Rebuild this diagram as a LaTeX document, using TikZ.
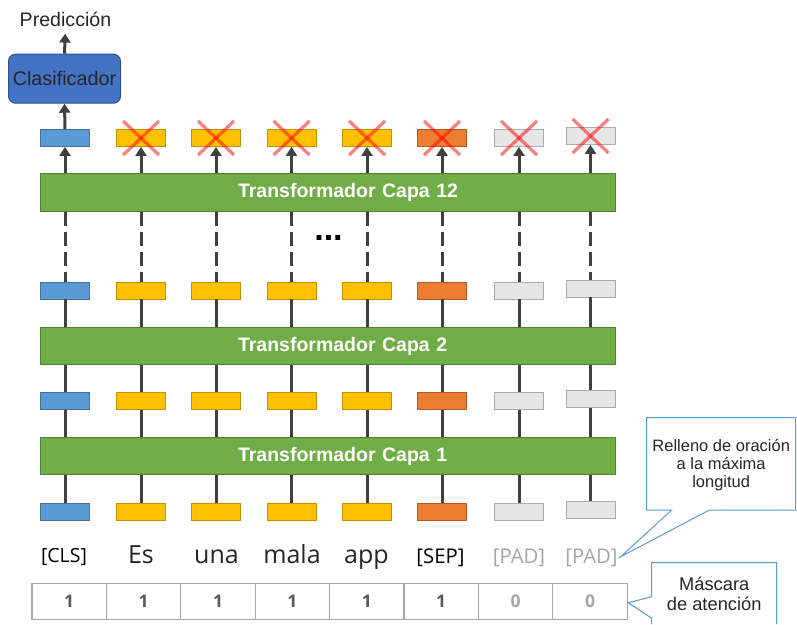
\documentclass[tikz,border=0pt]{standalone}
\usepackage{fontspec}
\setmainfont{Liberation Sans}
\newfontfamily\tokfont{Open Sans}
\usetikzlibrary{arrows.meta,calc}
\definecolor{cblue}{HTML}{5B9BD5}
\definecolor{cblueD}{HTML}{41719C}
\definecolor{cyel}{HTML}{FFC000}
\definecolor{cyelD}{HTML}{BF9000}
\definecolor{cora}{HTML}{ED7D31}
\definecolor{coraD}{HTML}{AE5A21}
\definecolor{cgry}{HTML}{E7E6E6}
\definecolor{cgryD}{HTML}{AFABAB}
\definecolor{cgrn}{HTML}{70AD47}
\definecolor{cgrnD}{HTML}{507E32}
\definecolor{cclf}{HTML}{4472C4}
\definecolor{cclfD}{HTML}{2F528F}
\definecolor{cline}{HTML}{404040}
\definecolor{ccall}{HTML}{5B9BD5}
\definecolor{ctxt}{HTML}{262626}
\definecolor{cmask}{HTML}{A6A6A6}
\definecolor{cnum}{HTML}{595959}
\tikzset{
  tokbox/.style={minimum width=49pt, minimum height=17pt, inner sep=0pt, line width=0.8pt},
  tblue/.style={tokbox, fill=cblue, draw=cblueD},
  tyel/.style={tokbox, fill=cyel, draw=cyelD},
  tora/.style={tokbox, fill=cora, draw=coraD},
  tgry/.style={tokbox, fill=cgry, draw=cgryD},
  layer/.style={fill=cgrn, draw=cgrnD, line width=0.8pt, text width=575pt, align=left, minimum height=37.5pt, inner xsep=0pt, inner ysep=0pt, text=white, font=\bfseries\fontsize{19.5}{22}\selectfont, execute at begin node={\hspace*{198pt}}},
  conn/.style={draw=cline, line width=3pt},
  arr/.style={conn, -{Triangle[width=11pt,length=9pt]}},
  dashconn/.style={conn, dash pattern=on 14pt off 6pt},
  xmark/.style={draw=red, opacity=0.5, line width=3.2pt},
  tokt/.style={anchor=base, inner sep=0pt, text=ctxt, font=\tokfont\fontsize{25}{28}\selectfont},
  tokb/.style={anchor=base, inner sep=0pt, text=black, font=\tokfont\fontsize{20.3}{23}\selectfont},
  tokp/.style={tokb, text=cmask},
  cell/.style={draw=cmask, line width=1.2pt, minimum width=74.4pt, minimum height=36pt, inner sep=0pt, font=\tokfont\bfseries\fontsize{17.5}{19}\selectfont},
  callbox/.style={draw=ccall, fill=white, line width=1pt, line join=miter},
  calltext/.style={align=center, inner sep=0pt, text=ctxt}
}
\begin{document}
\begin{tikzpicture}[x=1pt,y=-1pt]
\useasboundingbox[fill=white] (0,0) rectangle (797,624);

% layers
\node[layer] (L1) at (327.5,456) {Transformador Capa 1};
\node[layer] (L2) at (327.5,346) {Transformador Capa 2};
\node[layer] (L12) at (327.5,192.5) {Transformador Capa 12};

% token boxes
\foreach \x/\s/\dy [count=\i] in {65/tblue/0, 141/tyel/0, 216/tyel/0, 291.5/tyel/0, 367/tyel/0, 442/tora/0, 519/tgry/0, 590.5/tgry/-2}{
  \node[\s] (a\i) at (\x,511.7+\dy) {};
  \node[\s] (b\i) at (\x,400.7+\dy) {};
  \node[\s] (c\i) at (\x,290.5+\dy) {};
  \node[\s] (d\i) at (\x,138+\dy) {};
}

% connectors
\foreach \i in {1,...,8}{
  \draw[conn] (a\i.north) -- (a\i.north |- L1.south);
  \draw[conn] (L1.north -| b\i) -- (b\i.south);
  \draw[conn] (b\i.north) -- (b\i.north |- L2.south);
  \draw[conn] (L2.north -| c\i) -- (c\i.south);
  \draw[dashconn] (L12.south -| c\i) -- (c\i.north);
  \draw[arr] (L12.north -| d\i) -- (d\i.south);
}

% crosses
\foreach \i in {2,...,8}{
  \draw[xmark] ($(d\i)+(-18,-17)$) -- ($(d\i)+(18,17)$);
  \draw[xmark] ($(d\i)+(-18,17)$) -- ($(d\i)+(18,-17)$);
}

% dots
\node[anchor=base, inner sep=0pt, font=\bfseries\fontsize{34}{34}\selectfont] (dots) at (328.5,240) {...};

% classifier
\node[fill=cclf, draw=cclfD, line width=1pt, rounded corners=7pt, minimum width=112pt, minimum height=49pt, inner sep=0pt, text=ctxt, font=\fontsize{19.8}{22}\selectfont] (clf) at (64.5,78.7) {Clasificador};
\node[anchor=base, inner sep=0pt, text=ctxt, font=\fontsize{19.6}{22}\selectfont] (pred) at (65.5,26.7) {Predicción};
\draw[arr] (d1.north) -- (clf.south);
\draw[arr, shorten >=6.5pt] (clf.north) -- (pred.south);

% tokens
\node[tokb, font=\tokfont\fontsize{19.5}{22}\selectfont] (t1) at (64,562) {[CLS]};
\node[tokt] (t2) at (141,563) {Es};
\node[tokt] (t3) at (216.5,563) {una};
\node[tokt] (t4) at (292,563) {mala};
\node[tokt] (t5) at (366.5,563) {app};
\node[tokb] (t6) at (440.5,563) {[SEP]};
\node[tokp] (t7) at (519,563) {[PAD]};
\node[tokp] (t8) at (591.5,563) {[PAD]};

% mask
\foreach \v/\c [count=\i] in {1/cnum,1/cnum,1/cnum,1/cnum,1/cnum,1/cnum,0/cmask,0/cmask}{
  \node[cell, text=\c] (m\i) at (32+74.4*\i-37.2,601.5) {\v};
}

% callout 1
\draw[callbox] (646.7,417.7) -- (795.7,417.7) -- (795.7,510) -- (709.3,510) -- (620.7,556.7) -- (671.7,510) -- (646.7,510) -- cycle;
\node[calltext, font=\fontsize{16.5}{18.3}\selectfont] (callA) at (721.2,465) {Relleno de oración\\a la máxima\\longitud};

% callout 2
\draw[callbox] (651.7,624) -- (651.7,618.3) -- (628.3,602.7) -- (651.7,596.7) -- (651.7,562.7) -- (776.7,562.7) -- (776.7,624);
\node[calltext, font=\fontsize{18.3}{20}\selectfont] (callB) at (714.2,594) {Máscara\\de atención};
\end{tikzpicture}
\end{document}
